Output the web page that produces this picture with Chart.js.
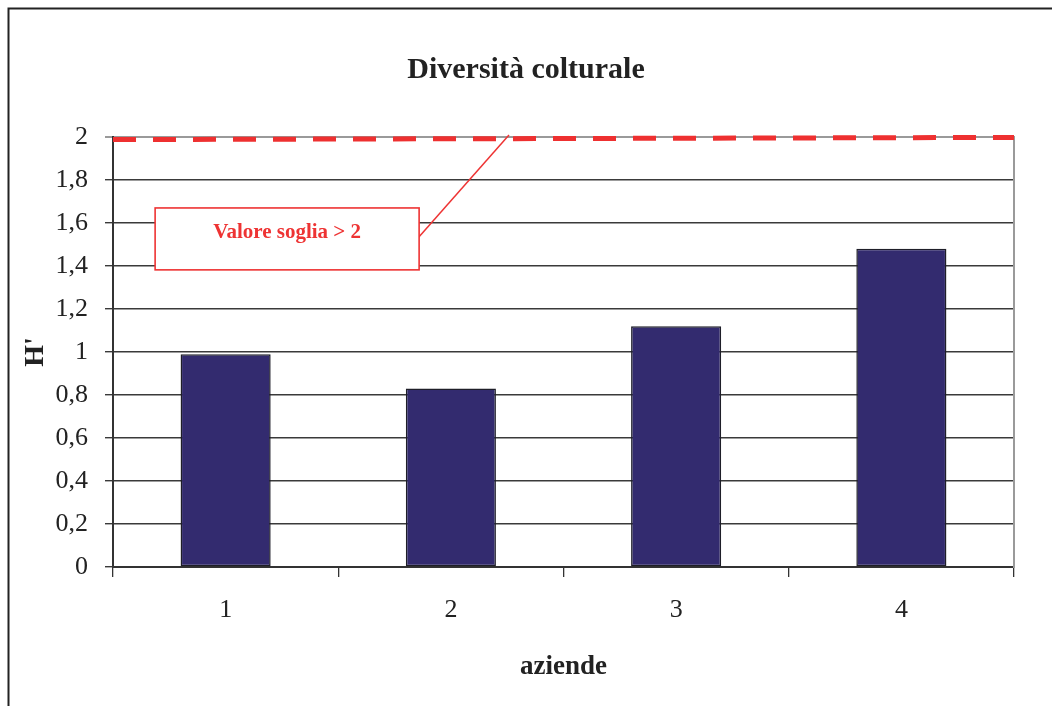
<!DOCTYPE html>
<html>
<head>
<meta charset="utf-8">
<script src="https://cdn.jsdelivr.net/npm/chart.js@4/dist/chart.umd.min.js"></script>
<style>
  html, body { margin: 0; padding: 0; background: #fff; }
  #wrap { width: 1052px; height: 706px; position: relative; }
</style>
</head>
<body>
<div id="wrap"><canvas id="c" width="1052" height="706"></canvas></div>
<script>
// ---- data ----
const categories = ['1', '2', '3', '4'];
const hValues = [0.99, 0.83, 1.12, 1.48];
const thresholdLine = [1.988, 1.998];   // dashed threshold (start, end)
const yTicks = [0, 0.2, 0.4, 0.6, 0.8, 1, 1.2, 1.4, 1.6, 1.8, 2];
const chartTitle = 'Diversità colturale';
const yTitle = "H'";
const xTitle = 'aziende';
const annotationText = 'Valore soglia > 2';

const SERIF = '"Liberation Serif", "Times New Roman", serif';

const framePlugin = {
  id: 'frame',
  beforeDraw(chart) {
    const ctx = chart.ctx;
    ctx.save();
    ctx.fillStyle = '#fff';
    ctx.fillRect(0, 0, chart.width, chart.height);
    ctx.strokeStyle = '#222';
    ctx.lineWidth = 2;
    ctx.beginPath();
    ctx.moveTo(8.5, chart.height);
    ctx.lineTo(8.5, 8.5);
    ctx.lineTo(chart.width, 8.5);
    ctx.stroke();
    ctx.restore();
  }
};

const annotationPlugin = {
  id: 'soglia',
  afterDatasetsDraw(chart) {
    const ctx = chart.ctx;
    const xs = chart.scales.x, ys = chart.scales.y;
    const x0 = xs.getPixelForValue(-0.313), x1 = xs.getPixelForValue(0.859);
    const y0 = ys.getPixelForValue(1.67), y1 = ys.getPixelForValue(1.382);
    ctx.save();
    // connector
    ctx.strokeStyle = '#ee3333';
    ctx.lineWidth = 1.5;
    ctx.beginPath();
    ctx.moveTo(x1 - 2, ys.getPixelForValue(1.526));
    ctx.lineTo(xs.getPixelForValue(1.258), ys.getPixelForValue(2.009));
    ctx.stroke();
    // box
    ctx.fillStyle = '#fff';
    ctx.fillRect(x0, y0, x1 - x0, y1 - y0);
    ctx.strokeStyle = '#ee3333';
    ctx.lineWidth = 1.6;
    ctx.strokeRect(x0, y0, x1 - x0, y1 - y0);
    // text
    ctx.fillStyle = '#ee3333';
    ctx.font = 'bold 21px ' + SERIF;
    ctx.textAlign = 'center';
    ctx.textBaseline = 'middle';
    ctx.fillText(annotationText, (x0 + x1) / 2, ys.getPixelForValue(1.555));
    ctx.restore();
  }
};

new Chart(document.getElementById('c'), {
  type: 'bar',
  data: {
    labels: categories,
    datasets: [
      {
        type: 'line',
        label: 'soglia',
        xAxisID: 'xLine',
        yAxisID: 'y',
        data: [{ x: 0, y: thresholdLine[0] }, { x: 1, y: thresholdLine[1] }],
        borderColor: '#ee3030',
        borderWidth: 5,
        borderDash: [23, 17],
        borderCapStyle: 'butt',
        pointRadius: 0,
        tension: 0,
        clip: false,
        order: 0
      },
      {
        type: 'bar',
        label: "H'",
        xAxisID: 'x',
        yAxisID: 'y',
        data: hValues,
        backgroundColor: '#332b6f',
        borderColor: '#1e1e28',
        borderWidth: 1.5,
        borderSkipped: false,
        barPercentage: 0.4,
        categoryPercentage: 1.0,
        grouped: false,
        order: 1
      }
    ]
  },
  options: {
    responsive: false,
    animation: false,
    devicePixelRatio: 1,
    layout: { padding: 0 },
    plugins: {
      legend: { display: false },
      tooltip: { enabled: false },
      title: {
        display: true,
        text: chartTitle,
        color: '#222',
        font: { family: SERIF, size: 30, weight: 'bold', lineHeight: 1.2 },
        padding: { top: 52, bottom: 49 }
      }
    },
    scales: {
      x: {
        type: 'category',
        position: 'bottom',
        offset: true,
        afterFit(s) { s.height = 139; },
        grid: {
          offset: true,
          drawOnChartArea: false,
          drawTicks: true,
          tickLength: 10,
          color: '#333',
          lineWidth: 1.3
        },
        border: { display: true, color: '#333', width: 2 },
        ticks: {
          color: '#222',
          padding: 18,
          font: { family: SERIF, size: 26, lineHeight: 1.2 },
          maxRotation: 0
        },
        title: {
          display: true,
          text: xTitle,
          color: '#222',
          font: { family: SERIF, size: 27, weight: 'bold', lineHeight: 1.2 },
          padding: { top: 0, bottom: 23 }
        }
      },
      xLine: {
        type: 'linear',
        display: false,
        min: 0,
        max: 1,
        offset: false
      },
      y: {
        type: 'linear',
        position: 'left',
        min: 0,
        max: 2,
        afterFit(s) { s.width = 113; },
        afterBuildTicks(s) { s.ticks = yTicks.map(v => ({ value: v })); },
        grid: {
          color: ctx => (ctx.tick && ctx.tick.value === 2) ? '#9a9a9a' : '#3a3a3a',
          lineWidth: ctx => (ctx.tick && ctx.tick.value === 2) ? 2 : 1.4,
          drawTicks: true,
          tickLength: 8
        },
        border: { display: true, color: '#333', width: 2 },
        ticks: {
          color: '#222',
          padding: 17,
          font: { family: SERIF, size: 26, lineHeight: 1.2 },
          callback: v => String(v).replace('.', ',')
        },
        title: {
          display: true,
          text: yTitle,
          color: '#222',
          font: { family: SERIF, size: 28, weight: 'bold', lineHeight: 1.2 },
          padding: { top: 19, bottom: 0 }
        }
      },
      y2: {
        type: 'linear',
        position: 'right',
        min: 0,
        max: 2,
        afterFit(s) { s.width = 38; },
        grid: { drawOnChartArea: false, drawTicks: false },
        border: { display: true, color: '#9a9a9a', width: 2 },
        ticks: { display: false }
      }
    }
  },
  plugins: [framePlugin, annotationPlugin]
});
</script>
</body>
</html>
